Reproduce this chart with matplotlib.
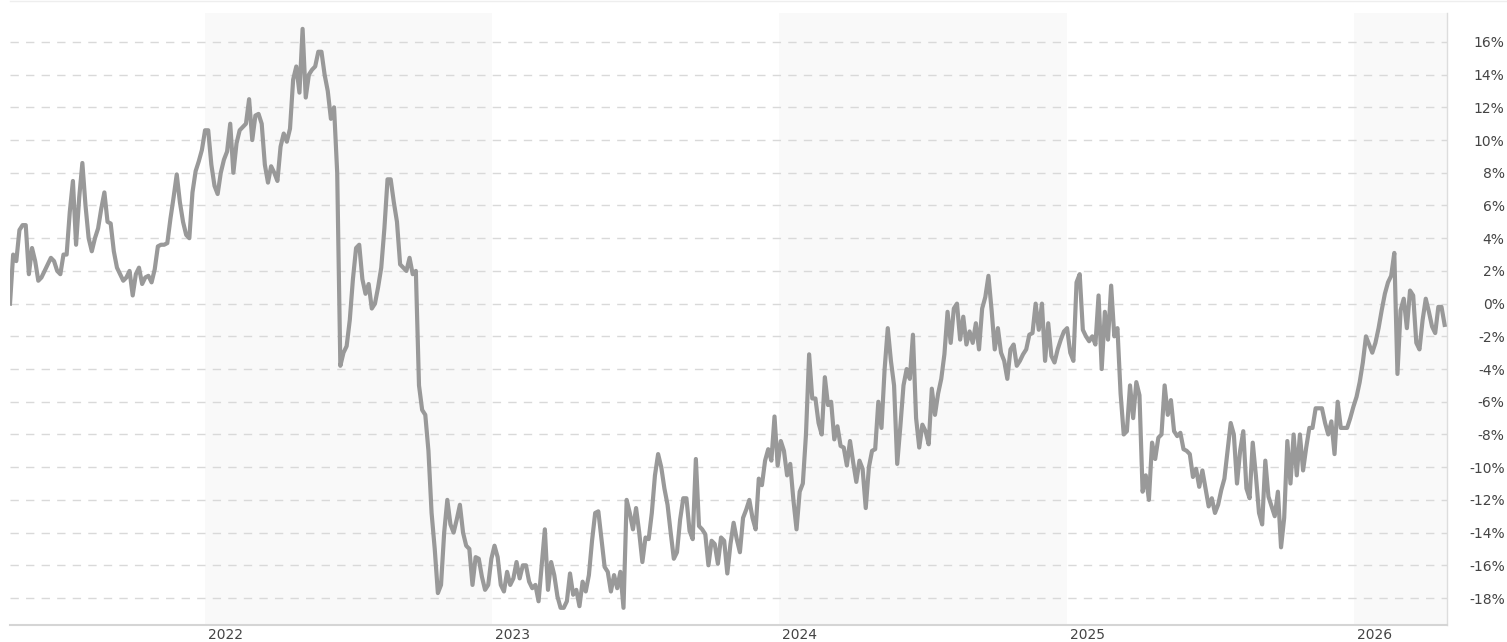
import matplotlib
matplotlib.use("Agg")
import matplotlib.pyplot as plt
import matplotlib.transforms as mtransforms
from matplotlib.lines import Line2D
import pandas as pd

# series sampled every 4 days, percent change
start_date = "2021-04-28"
step = "4D"
change_pct = [
    0.0, 3.0, 2.6, 4.5, 4.8, 4.8, 1.8, 3.4, 2.6, 1.4,
    1.6, 2.0, 2.4, 2.8, 2.6, 2.0, 1.8, 3.0, 3.0, 5.6,
    7.5, 3.6, 6.5, 8.6, 6.0, 4.0, 3.2, 4.0, 4.6, 5.8,
    6.8, 5.0, 4.9, 3.2, 2.2, 1.8, 1.4, 1.6, 2.0, 0.5,
    1.8, 2.2, 1.2, 1.6, 1.7, 1.3, 2.1, 3.5, 3.6, 3.6,
    3.7, 5.2, 6.5, 7.9, 6.2, 5.0, 4.2, 4.0, 6.8, 8.1,
    8.7, 9.4, 10.6, 10.6, 8.5, 7.2, 6.7, 8.0, 8.8, 9.3,
    11.0, 8.0, 9.8, 10.6, 10.8, 11.0, 12.5,
    10.0, 11.5, 11.6, 11.0, 8.5, 7.4, 8.4, 8.0, 7.5, 9.6,
    10.4, 9.9, 10.7, 13.7, 14.5, 12.9, 16.8, 12.6, 14.0, 14.3,
    14.5, 15.4, 15.4, 14.0, 13.0, 11.3, 12.0, 8.0, -3.8, -3.0,
    -2.6, -1.0, 1.5, 3.4, 3.6, 1.5, 0.6, 1.2, -0.3, 0.0,
    1.0, 2.2, 4.6, 7.6, 7.6, 6.2, 5.0, 2.4, 2.2, 2.0,
    2.8, 1.8, 2.0, -5.0, -6.5, -6.8, -9.0, -12.8, -15.0, -17.7,
    -17.2, -14.0, -12.0, -13.5, -14.0, -13.2, -12.3, -14.0, -14.8, -15.0,
    -17.2, -15.5, -15.6, -16.7, -17.5, -17.2, -15.6, -14.8,
    -15.5, -17.2, -17.6, -16.4, -17.2, -16.8, -15.8, -16.8, -16.0, -16.0,
    -17.0, -17.4, -17.2, -18.2, -16.0, -13.8, -17.5, -15.8, -16.6, -17.9,
    -18.6, -18.6, -18.2, -16.5, -17.8, -17.5, -18.5, -17.0, -17.6, -16.6,
    -14.5, -12.8, -12.7, -14.4, -16.1, -16.4, -17.6, -16.6, -17.4, -16.4,
    -18.6, -12.0, -12.8, -13.8, -12.5, -14.0, -15.8, -14.3, -14.4, -12.8,
    -10.5, -9.2, -10.0, -11.3, -12.3, -14.0, -15.6, -15.2, -13.2, -11.9,
    -11.9, -13.9, -14.4, -9.5, -13.6, -13.8, -14.1, -16.0, -14.5, -14.7,
    -15.9, -14.3, -14.5, -16.5, -14.7, -13.4, -14.4, -15.2, -13.1, -12.6, -12.0,
    -13.1, -13.8, -10.7, -11.1, -9.6, -8.9, -9.6, -6.9, -9.9, -8.4,
    -9.0, -10.5, -9.8, -12.0, -13.8, -11.5, -11.0, -8.0, -3.1, -5.8,
    -5.8, -7.3, -8.0, -4.5, -6.2, -6.0, -8.3, -7.5, -8.7, -8.8,
    -9.9, -8.4, -9.7, -10.9, -9.6, -10.1, -12.5, -10.0, -9.0, -8.9,
    -6.0, -7.6, -4.0, -1.5, -3.5, -5.0, -9.8, -7.5, -5.0, -4.0,
    -4.6, -1.9, -7.0, -8.8, -7.4, -7.8, -8.6, -5.2, -6.8, -5.5,
    -4.6, -3.1, -0.5, -2.4, -0.3, 0.0, -2.2, -0.8, -2.5, -1.7,
    -2.4, -1.2, -2.8, -0.3, 0.4, 1.7, -0.4, -2.8, -1.5,
    -3.0, -3.5, -4.6, -2.8, -2.5, -3.8, -3.5, -3.1, -2.8, -1.9,
    -1.8, 0.0, -1.6, 0.0, -3.5, -1.2, -3.2, -3.6, -2.8, -2.2,
    -1.7, -1.5, -3.0, -3.5, 1.3, 1.8, -1.6, -2.0, -2.3, -2.0,
    -2.5, 0.5, -4.0, -0.5, -2.2, 1.1, -2.0, -1.5, -5.5, -8.0,
    -7.8, -5.0, -7.0, -4.8, -5.6, -11.5, -10.5, -12.0, -8.5, -9.5,
    -8.2, -8.0, -5.0, -6.8, -5.9, -7.8, -8.1, -7.9, -8.9, -9.0,
    -9.2, -10.6, -10.1, -11.2, -10.2, -11.3, -12.4, -11.9, -12.8, -12.3,
    -11.4, -10.7, -9.0, -7.3, -8.0, -11.0, -9.0, -7.8,
    -11.3, -11.9, -8.5, -10.5, -12.8, -13.5, -9.6, -11.8, -12.4, -13.0,
    -11.5, -14.9, -13.1, -8.4, -11.0, -8.0, -10.5, -8.0, -10.2, -8.8,
    -7.6, -7.6, -6.4, -6.4, -6.4, -7.3, -8.0, -7.2, -9.2, -6.0,
    -7.6, -7.6, -7.6, -7.0, -6.3, -5.7, -4.8, -3.6, -2.0, -2.5,
    -3.0, -2.4, -1.5, -0.4, 0.6, 1.3, 1.7, 3.1, -4.3, -0.4,
    0.3, -1.5, 0.8, 0.5, -2.4, -2.8, -1.0, 0.3, -0.5, -1.4,
    -1.8, -0.2, -0.2, -1.3,
]
years = [2022, 2023, 2024, 2025, 2026]
shaded_years = [2022, 2024, 2026]
y_ticks = list(range(-18, 17, 2))
x_start, x_end = "2021-04-28", "2026-04-29"


def main():
    plt.rcParams["lines.scale_dashes"] = False
    dates = pd.date_range(start_date, periods=len(change_pct), freq=step)
    xmin, xmax = pd.Timestamp(x_start), pd.Timestamp(x_end)

    fig = plt.figure(figsize=(15.07, 6.42), dpi=100)
    ax = fig.add_axes([10 / 1507, 17 / 642, 1437 / 1507, 612 / 642])

    for y in shaded_years:
        end = min(pd.Timestamp(f"{y + 1}-01-01"), xmax)
        ax.axvspan(pd.Timestamp(f"{y}-01-01"), end, color="#f9f9f9", lw=0, zorder=0)

    for t in y_ticks:
        ax.axhline(t, color="#d9d9d9", lw=1.0, linestyle=(0, (6.0, 5.2)), zorder=1)

    ax.plot(dates, change_pct, color="#999999", lw=3.0, zorder=3)

    ax.set_xlim(xmin, xmax)
    ax.set_ylim(-19.65, 17.77)

    for side in ("top", "left"):
        ax.spines[side].set_visible(False)
    ax.spines["right"].set_color("#dddddd")
    ax.spines["right"].set_linewidth(1.0)
    ax.spines["bottom"].set_color("#d5d5d5")
    ax.spines["bottom"].set_linewidth(1.5)

    ax.yaxis.tick_right()
    ax.set_yticks(y_ticks)
    ax.set_yticklabels([f"{t}%" for t in y_ticks])
    ax.tick_params(axis="y", length=0, pad=41.5, labelsize=10, labelcolor="#444444")
    for lbl in ax.get_yticklabels():
        lbl.set_ha("right")

    ax.set_xticks([pd.Timestamp(f"{y}-01-01") for y in years])
    ax.set_xticklabels([str(y) for y in years])
    ax.tick_params(axis="x", length=0, pad=2, labelsize=10, labelcolor="#444444")
    shift = mtransforms.ScaledTranslation(2 / 72, 0, fig.dpi_scale_trans)
    for lbl in ax.get_xticklabels():
        lbl.set_ha("left")
        lbl.set_transform(lbl.get_transform() + shift)

    fig.add_artist(Line2D([10 / 1507, 1], [1 - 1 / 642] * 2, transform=fig.transFigure,
                          color="#eeeeee", lw=1))

    fig.savefig("out.png", dpi=100)


if __name__ == "__main__":
    main()
